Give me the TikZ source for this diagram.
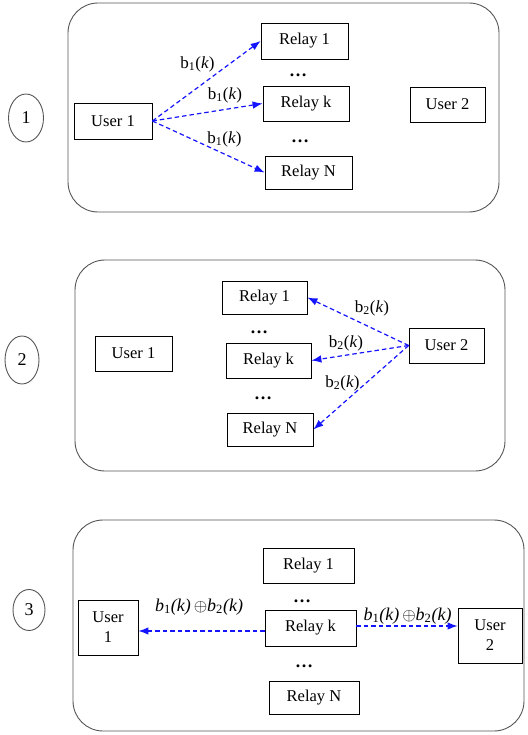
\documentclass[tikz,border=0pt]{standalone}
\usepackage{fontspec}
\setmainfont{Liberation Serif}
\usetikzlibrary{arrows.meta,shapes.geometric}
\definecolor{framegray}{RGB}{85,85,85}
\definecolor{arrowblue}{RGB}{20,20,255}
\tikzset{
  panel/.style={draw=framegray, line width=0.9pt, rounded corners=30pt},
  numcirc/.style={draw=framegray, ellipse, inner sep=0pt, line width=0.9pt, font=\fontsize{18}{20}\selectfont},
  box/.style={draw=black, line width=0.8pt, inner sep=0pt, font=\fontsize{16.5}{18}\selectfont},
  dotsnode/.style={anchor=base, inner sep=0pt, font=\fontsize{18}{20}\selectfont\bfseries},
  lbl/.style={inner sep=0pt, font=\fontsize{17}{19}\selectfont},
  xlbl/.style={inner sep=0pt, font=\fontsize{18}{20}\selectfont},
  sendarrow/.style={draw=arrowblue, line width=1.2pt, dash pattern=on 4.5pt off 3pt, -{Latex[length=10pt,width=7.5pt]}}
}
\newcommand{\bk}[1]{b\textsubscript{#1}(\textit{k})}
\newcommand{\xork}{\textit{b}\textsubscript{1}\textit{(k)}\,$\oplus$\textit{b}\textsubscript{2}\textit{(k)}}
\begin{document}
\begin{tikzpicture}[x=1pt,y=-1pt]
\useasboundingbox (0,0) rectangle (527,735);

% ---------- Panel 1 ----------
\draw[panel] (68,3) rectangle (499,212);
\node[numcirc, minimum width=35pt, minimum height=48pt] (c1) at (26,118) {1};
\node[box, minimum width=78pt, minimum height=36pt] (u1a) at (113,121) {User 1};
\node[box, minimum width=87pt, minimum height=36pt] (r1a) at (304.5,41) {Relay 1};
\node[box, minimum width=86pt, minimum height=35pt] (rka) at (306,103.5) {Relay k};
\node[box, minimum width=87pt, minimum height=33pt] (rNa) at (308.5,172.5) {Relay N};
\node[box, minimum width=75pt, minimum height=35pt] (u2a) at (447.5,104.5) {User 2};
\node[dotsnode] (d1a) at (298,77) {…};
\node[dotsnode] (d2a) at (300,143) {…};
\draw[sendarrow] (u1a.east) -- (r1a.west);
\draw[sendarrow] (u1a.east) -- (rka.west);
\draw[sendarrow] (u1a.east) -- (rNa.west);
\node[lbl] (l1a) at (197.5,64) {\bk{1}};
\node[lbl] (l2a) at (225,95) {\bk{1}};
\node[lbl] (l3a) at (224.5,139) {\bk{1}};

% ---------- Panel 2 ----------
\draw[panel] (75,260) rectangle (505,471);
\node[numcirc, minimum width=34pt, minimum height=48pt] (c2) at (22,360) {2};
\node[box, minimum width=77pt, minimum height=35pt] (u1b) at (133.5,353.5) {User 1};
\node[box, minimum width=85pt, minimum height=33pt] (r1b) at (264.5,297.5) {Relay 1};
\node[box, minimum width=85pt, minimum height=35pt] (rkb) at (268.5,360.5) {Relay k};
\node[box, minimum width=86pt, minimum height=33pt] (rNb) at (270,429.5) {Relay N};
\node[box, minimum width=75pt, minimum height=35pt] (u2b) at (446.5,345.5) {User 2};
\node[dotsnode] (d1b) at (259,333) {…};
\node[dotsnode] (d2b) at (263,399) {…};
\draw[sendarrow] (u2b.west) -- (r1b.east);
\draw[sendarrow] (u2b.west) -- (rkb.east);
\draw[sendarrow] (u2b.west) -- (rNb.east);
\node[lbl] (l1b) at (372,308) {\bk{2}};
\node[lbl] (l2b) at (346,343) {\bk{2}};
\node[lbl] (l3b) at (342.5,383) {\bk{2}};

% ---------- Panel 3 ----------
\draw[panel] (73,520) rectangle (524,731);
\node[numcirc, minimum width=32pt, minimum height=41pt] (c3) at (29,610) {3};
\node[box, minimum width=60pt, minimum height=55pt, align=center] (u1c) at (108,627.5) {User\\[2pt]1};
\node[box, minimum width=91pt, minimum height=35pt] (r1c) at (308.5,565.5) {Relay 1};
\node[box, minimum width=91pt, minimum height=36pt] (rkc) at (310.5,628) {Relay k};
\node[box, minimum width=90pt, minimum height=33pt] (rNc) at (314,697.5) {Relay N};
\node[box, minimum width=64pt, minimum height=55pt, align=center, fill=white] (u2c) at (490,635.5) {User\\[2pt]2};
\node[dotsnode] (d1c) at (302,602) {…};
\node[dotsnode] (d2c) at (304,667) {…};
\draw[sendarrow] ([yshift=-3pt]rkc.west) -- ([yshift=-3pt]rkc.west -| u1c.east);
\draw[sendarrow] ([yshift=2pt]rkc.east) -- ([yshift=2pt]rkc.east -| u2c.west);
\node[xlbl] (l1c) at (199,607) {\xork};
\node[xlbl] (l2c) at (407.5,616) {\xork};
\end{tikzpicture}
\end{document}
